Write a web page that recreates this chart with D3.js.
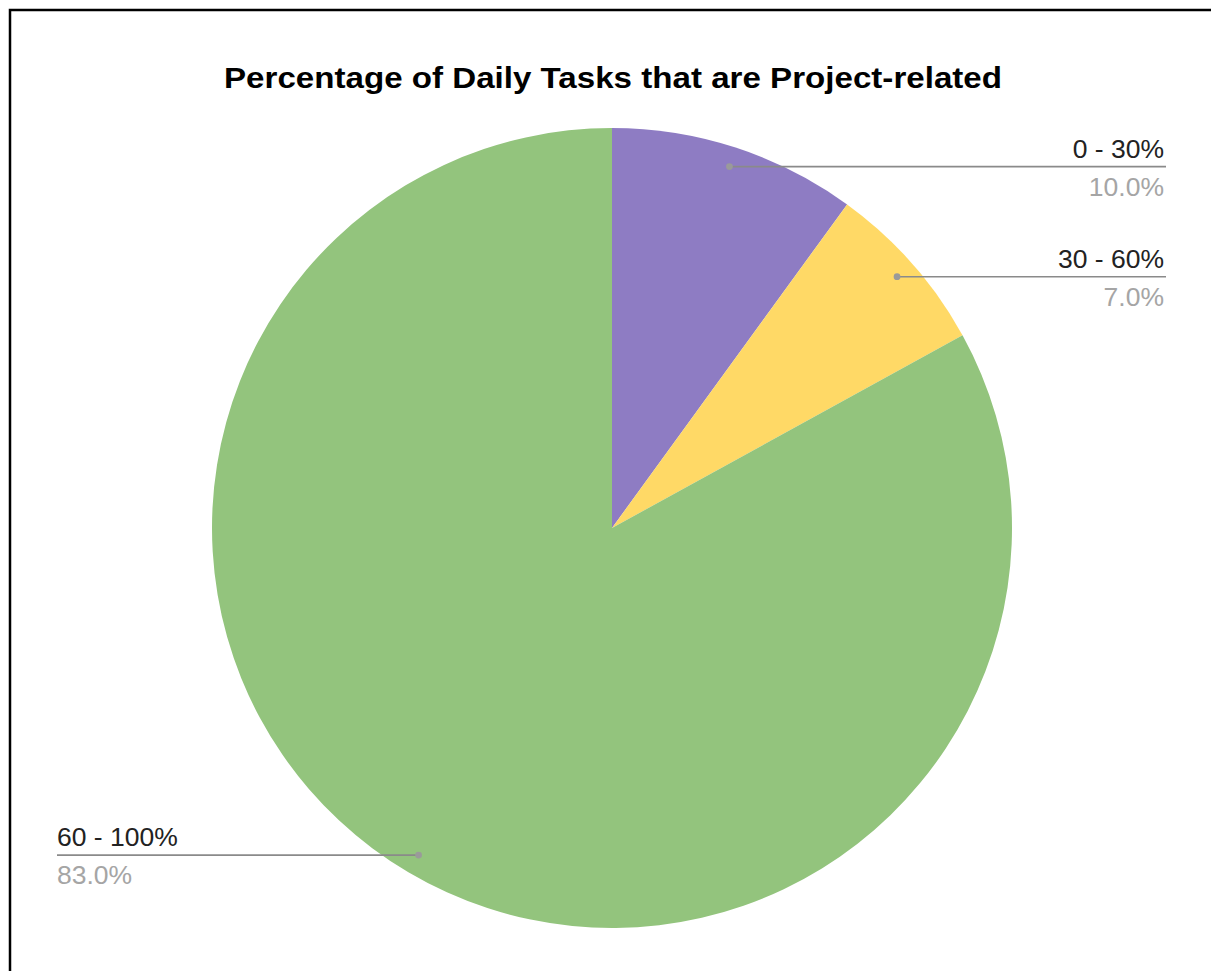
<!DOCTYPE html>
<html>
<head>
<meta charset="utf-8">
<script src="https://cdn.jsdelivr.net/npm/d3@7"></script>
<style>
  html, body { margin: 0; padding: 0; background: #fff; }
  svg { display: block; }
</style>
</head>
<body>
<svg id="chart" width="1211" height="971"></svg>
<script>
// Share of daily tasks that are project-related, by bucket
const categories = ["0 - 30%", "30 - 60%", "60 - 100%"];
const shares = [10.0, 7.0, 83.0];
const sliceColors = ["#8e7cc3", "#ffd966", "#93c47d"];
const chartTitle = "Percentage of Daily Tasks that are Project-related";

const W = 1211, H = 971;
const cx = 612, cy = 528, R = 400;
const font = "'Liberation Sans', Arial, sans-serif";

const svg = d3.select("#chart");

// Outer frame (only top and left edges fall inside the canvas)
svg.append("rect")
  .attr("x", 10).attr("y", 10)
  .attr("width", W + 40).attr("height", H + 40)
  .attr("fill", "none")
  .attr("stroke", "#000")
  .attr("stroke-width", 2.5);

// Title
svg.append("text")
  .attr("x", 224).attr("y", 88)
  .attr("font-family", font)
  .attr("font-weight", "bold")
  .attr("font-size", 30)
  .attr("textLength", 778)
  .attr("lengthAdjust", "spacingAndGlyphs")
  .attr("fill", "#000")
  .text(chartTitle);

const data = categories.map((c, i) => ({ label: c, value: shares[i], color: sliceColors[i] }));

const pie = d3.pie().value(d => d.value).sort(null);
const arcs = pie(data);
const arc = d3.arc().innerRadius(0).outerRadius(R);
const dotArc = d3.arc().innerRadius(R * 0.95).outerRadius(R * 0.95);

const g = svg.append("g").attr("transform", `translate(${cx},${cy})`);

g.selectAll("path.slice")
  .data(arcs)
  .join("path")
  .attr("class", "slice")
  .attr("d", arc)
  .attr("fill", d => d.data.color);

// Leader lines and labels
const labelRightX = 1166, labelLeftX = 57;
const fmt = d3.format(".1f");

arcs.forEach(a => {
  const [dx, dy] = dotArc.centroid(a);
  const px = cx + dx, py = cy + dy;
  const onRight = dx > 0;
  const endX = onRight ? labelRightX : labelLeftX;

  svg.append("line")
    .attr("x1", px).attr("y1", py)
    .attr("x2", endX).attr("y2", py)
    .attr("stroke", "#8a8a8a")
    .attr("stroke-width", 1.6);

  svg.append("circle")
    .attr("cx", px).attr("cy", py).attr("r", 3.4)
    .attr("fill", "#9a9a9a");

  const tx = onRight ? labelRightX - 2 : labelLeftX;
  const anchor = onRight ? "end" : "start";

  svg.append("text")
    .attr("x", tx).attr("y", py - 9)
    .attr("text-anchor", anchor)
    .attr("font-family", font)
    .attr("font-size", 26.5)
    .attr("fill", "#222")
    .text(a.data.label);

  svg.append("text")
    .attr("x", tx).attr("y", py + 29)
    .attr("text-anchor", anchor)
    .attr("font-family", font)
    .attr("font-size", 26.5)
    .attr("fill", "#a5a5a5")
    .text(fmt(a.data.value) + "%");
});
</script>
</body>
</html>
